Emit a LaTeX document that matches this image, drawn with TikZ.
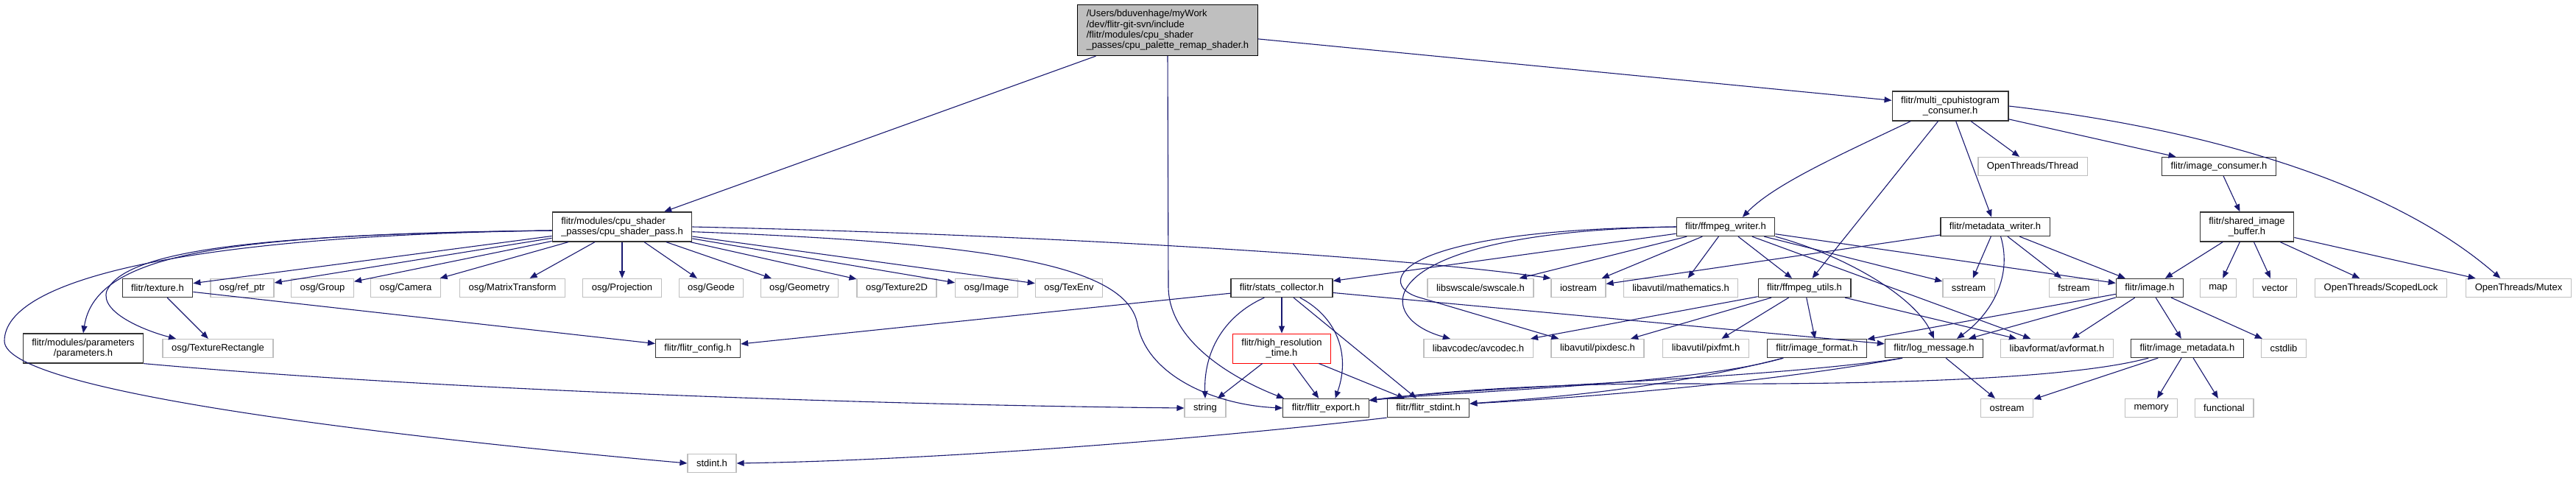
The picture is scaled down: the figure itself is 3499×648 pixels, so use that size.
\documentclass[tikz,border=0pt]{standalone}
\usepackage{fontspec}
\setmainfont{Liberation Sans}
\usetikzlibrary{arrows.meta}
\definecolor{edgeblue}{HTML}{191970}
\definecolor{boxgray}{HTML}{BFBFBF}
\begin{document}
\begin{tikzpicture}[x=0.5pt, y=-0.5pt,
  box/.style={draw=black!80, line width=0.65pt, fill=white, font=\fontsize{6.5}{6.65}\selectfont, inner xsep=6pt, inner ysep=1pt, minimum height=12.5pt},
  ext/.style={box, draw=boxgray},
  twoline/.style={box, align=center, minimum height=20pt},
  redbox/.style={twoline, draw=red, line width=0.5pt},
  mainbox/.style={box, fill=boxgray, draw=black, align=left, minimum height=34.5pt, font=\fontsize{6.5}{7.2}\selectfont},
  dep/.style={draw=edgeblue, line width=0.55pt, -{Triangle[length=5pt,width=4pt]}}]
\useasboundingbox (0,0) rectangle (3499,648);

\node[mainbox] (main) at (1586,41) {/Users/bduvenhage/myWork\\/dev/flitr-git-svn/include\\/flitr/modules/cpu\_shader\\\_passes/cpu\_palette\_remap\_shader.h};
\node[twoline, align=left] (cpupass) at (845,308) {flitr/modules/cpu\_shader\\\_passes/cpu\_shader\_pass.h};
\node[twoline] (multi) at (2649,144) {flitr/multi\_cpuhistogram\\\_consumer.h};
\node[ext] (thread) at (2761,226) {OpenThreads/Thread};
\node[box] (imgcons) at (3014,226) {flitr/image\_consumer.h};
\node[box] (ffwriter) at (2344,308) {flitr/ffmpeg\_writer.h};
\node[box] (mdwriter) at (2710,308) {flitr/metadata\_writer.h};
\node[twoline] (shbuf) at (3052,308) {flitr/shared\_image\\\_buffer.h};

\node[box] (texture) at (214,391) {flitr/texture.h};
\node[ext] (refptr) at (329,391) {osg/ref\_ptr};
\node[ext] (group) at (438,391) {osg/Group};
\node[ext] (camera) at (551,391) {osg/Camera};
\node[ext] (matrix) at (696,391) {osg/MatrixTransform};
\node[ext] (projection) at (845,391) {osg/Projection};
\node[ext] (geode) at (966,391) {osg/Geode};
\node[ext] (geometry) at (1086,391) {osg/Geometry};
\node[ext] (texii) at (1218,391) {osg/Texture2D};
\node[ext] (osgimage) at (1340,391) {osg/Image};
\node[ext] (texenv) at (1452,391) {osg/TexEnv};
\node[box] (stats) at (1741,391) {flitr/stats\_collector.h};
\node[ext] (swscale) at (2011,391) {libswscale/swscale.h};
\node[ext] (iostream) at (2144,391) {iostream};
\node[ext] (mathem) at (2283,391) {libavutil/mathematics.h};
\node[box] (ffutils) at (2451,391) {flitr/ffmpeg\_utils.h};
\node[ext] (sstream) at (2674,391) {sstream};
\node[ext] (fstream) at (2817,391) {fstream};
\node[box] (image) at (2920,391) {flitr/image.h};
\node[ext] (map) at (3013,391) {map};
\node[ext] (vector) at (3090,391) {vector};
\node[ext] (scoped) at (3234,391) {OpenThreads/ScopedLock};
\node[ext] (mutex) at (3421,391) {OpenThreads/Mutex};

\node[twoline] (params) at (113,473) {flitr/modules/parameters\\/parameters.h};
\node[ext] (texrect) at (296,473) {osg/TextureRectangle};
\node[box] (config) at (948,473) {flitr/flitr\_config.h};
\node[redbox] (hrtime) at (1741,473) {flitr/high\_resolution\\\_time.h};
\node[ext] (avcodec) at (2008,473) {libavcodec/avcodec.h};
\node[ext] (pixdesc) at (2170,473) {libavutil/pixdesc.h};
\node[ext] (pixfmt) at (2317,473) {libavutil/pixfmt.h};
\node[box] (imgformat) at (2468,473) {flitr/image\_format.h};
\node[box] (logmsg) at (2627,473) {flitr/log\_message.h};
\node[ext] (avformat) at (2794,473) {libavformat/avformat.h};
\node[box] (imgmeta) at (2971,473) {flitr/image\_metadata.h};
\node[ext] (cstdlib) at (3102,473) {cstdlib};

\node[ext] (string) at (1637,554) {string};
\node[box] (export) at (1801,554) {flitr/flitr\_export.h};
\node[box] (fstdint) at (1940,554) {flitr/flitr\_stdint.h};
\node[ext] (ostream) at (2726,554) {ostream};
\node[ext] (memory) at (2922,554) {memory};
\node[ext] (functional) at (3021,554) {functional};
\node[ext] (stdint) at (967,629) {stdint.h};

\draw[dep] (main) -- (cpupass);
\draw[dep] (main) -- (multi);
\draw[dep] (main.south) -- (1587,390) .. controls (1588,470) and (1690,520) .. (export.167);

\draw[dep] (cpupass) -- (texture);
\draw[dep] (cpupass) -- (refptr);
\draw[dep] (cpupass) -- (group);
\draw[dep] (cpupass) -- (camera);
\draw[dep] (cpupass) -- (matrix);
\draw[dep] (cpupass) -- (projection);
\draw[dep] (cpupass) -- (geode);
\draw[dep] (cpupass) -- (geometry);
\draw[dep] (cpupass) -- (texii);
\draw[dep] (cpupass) -- (osgimage);
\draw[dep] (cpupass) -- (texenv);
\draw[dep] (cpupass.-177) .. controls (300,318) and (130,345) .. (params.north);
\draw[dep] (cpupass.-177) .. controls (350,318) and (170,340) .. (145,395) .. controls (135,425) and (200,450) .. (texrect.167);
\draw[dep] (cpupass.-177) .. controls (250,320) and (6,380) .. (6,463) .. controls (6,530) and (500,590) .. (stdint.west);
\draw[dep] (cpupass.-4) .. controls (1350,330) and (1530,360) .. (1545,440) .. controls (1558,510) and (1650,550) .. (export.west);
\draw[dep] (cpupass.east) .. controls (1400,318) and (1900,348) .. (iostream.north west);

\draw[dep] (texture) -- (texrect);
\draw[dep] (texture) -- (config);
\draw[dep] (params.south east) .. controls (600,530) and (1200,550) .. (string.west);

\draw[dep] (stats) -- (config);
\draw[dep] (stats) -- (hrtime);
\draw[dep] (stats.-151) .. controls (1660,430) and (1635,480) .. (string.north);
\draw[dep] (stats.-28) .. controls (1815,430) and (1835,480) .. (export.46);
\draw[dep] (stats) -- (fstdint);
\draw[dep] (stats) -- (logmsg);
\draw[dep] (hrtime) -- (string);
\draw[dep] (hrtime) -- (export);
\draw[dep] (hrtime) -- (fstdint);
\draw[dep] (fstdint.south west) .. controls (1600,600) and (1250,625) .. (stdint.east);

\draw[dep] (multi.-159) .. controls (2500,210) and (2410,250) .. (ffwriter.30);
\draw[dep] (multi) -- (ffutils);
\draw[dep] (multi) -- (thread);
\draw[dep] (multi) -- (imgcons);
\draw[dep] (multi) -- (mdwriter);
\draw[dep] (multi.east) .. controls (3000,175) and (3250,250) .. (mutex.152);
\draw[dep] (imgcons) -- (shbuf);
\draw[dep] (shbuf) -- (image);
\draw[dep] (shbuf) -- (map);
\draw[dep] (shbuf) -- (vector);
\draw[dep] (shbuf) -- (scoped);
\draw[dep] (shbuf) -- (mutex);

\draw[dep] (ffwriter) -- (stats);
\draw[dep] (ffwriter.west) .. controls (1860,315) and (1860,430) .. (avcodec.161);
\draw[dep] (ffwriter.west) .. controls (1890,312) and (1870,385) .. (1925,403) -- (pixdesc.166);
\draw[dep] (ffwriter) -- (swscale);
\draw[dep] (ffwriter) -- (iostream);
\draw[dep] (ffwriter) -- (mathem);
\draw[dep] (ffwriter) -- (ffutils);
\draw[dep] (ffwriter) -- (image);
\draw[dep] (ffwriter) -- (sstream);
\draw[dep] (ffwriter) -- (avformat);
\draw[dep] (ffwriter.south east) .. controls (2500,345) and (2600,400) .. (logmsg.north);

\draw[dep] (ffutils) -- (avcodec);
\draw[dep] (ffutils) -- (pixdesc);
\draw[dep] (ffutils) -- (pixfmt);
\draw[dep] (ffutils) -- (imgformat);
\draw[dep] (ffutils) -- (avformat);

\draw[dep] (mdwriter) -- (iostream);
\draw[dep] (mdwriter) -- (sstream);
\draw[dep] (mdwriter.-60) .. controls (2735,380) and (2700,430) .. (logmsg.23);
\draw[dep] (mdwriter) -- (fstream);
\draw[dep] (mdwriter) -- (image);

\draw[dep] (image) -- (imgformat);
\draw[dep] (image) -- (logmsg);
\draw[dep] (image) -- (avformat);
\draw[dep] (image) -- (imgmeta);
\draw[dep] (image) -- (cstdlib);

\draw[dep] (imgformat.-164) .. controls (2300,522) and (2000,530) .. (export.10);
\draw[dep] (imgformat.-164) .. controls (2250,530) and (2100,540) .. (fstdint.6);
\draw[dep] (logmsg.-163) .. controls (2400,515) and (2000,525) .. (export.10);
\draw[dep] (logmsg.-163) .. controls (2400,520) and (2150,540) .. (fstdint.6);
\draw[dep] (logmsg) -- (ostream);
\draw[dep] (imgmeta) -- (ostream);
\draw[dep] (imgmeta) -- (memory);
\draw[dep] (imgmeta) -- (functional);
\draw[dep] (imgmeta.-166) .. controls (2800,518) and (2500,522) .. (2300,521) .. controls (2100,520) and (1950,532) .. (export.10);
\end{tikzpicture}
\end{document}
